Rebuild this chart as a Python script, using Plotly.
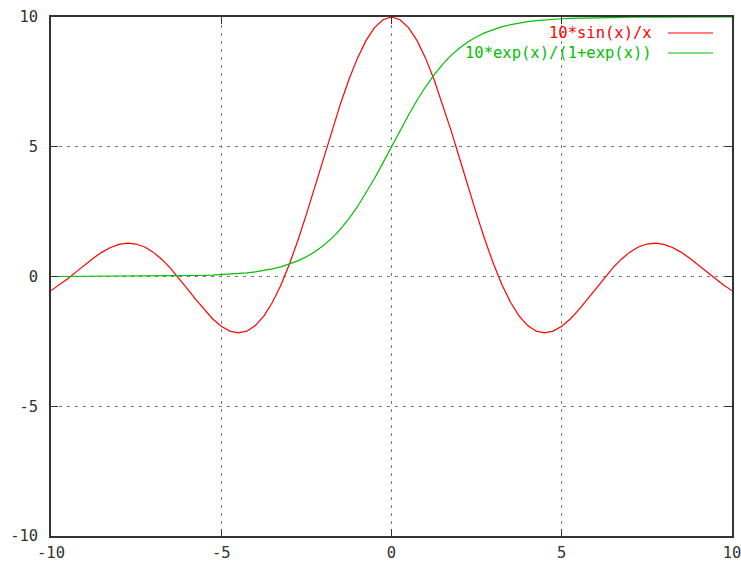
import plotly.graph_objects as go

x_vals = [-10.0, -9.75, -9.5, -9.25, -9.0, -8.75, -8.5, -8.25, -8.0, -7.75, -7.5, -7.25, -7.0, -6.75, -6.5, -6.25,
          -6.0, -5.75, -5.5, -5.25, -5.0, -4.75, -4.5, -4.25, -4.0, -3.75, -3.5, -3.25, -3.0, -2.75, -2.5, -2.25,
          -2.0, -1.75, -1.5, -1.25, -1.0, -0.75, -0.5, -0.25, 0.0, 0.25, 0.5, 0.75, 1.0, 1.25, 1.5, 1.75,
          2.0, 2.25, 2.5, 2.75, 3.0, 3.25, 3.5, 3.75, 4.0, 4.25, 4.5, 4.75, 5.0, 5.25, 5.5, 5.75,
          6.0, 6.25, 6.5, 6.75, 7.0, 7.25, 7.5, 7.75, 8.0, 8.25, 8.5, 8.75, 9.0, 9.25, 9.5, 9.75, 10.0]

sinc_vals = [-0.544, -0.326, -0.079, 0.188, 0.458, 0.714, 0.939, 1.117, 1.237, 1.285, 1.251, 1.135, 0.939, 0.667, 0.331, -0.053,
             -0.466, -0.884, -1.283, -1.636, -1.918, -2.104, -2.172, -2.106, -1.892, -1.524, -1.002, -0.333, 0.470, 1.388, 2.394, 3.458,
             4.546, 5.623, 6.650, 7.592, 8.415, 9.089, 9.589, 9.896, 10.0, 9.896, 9.589, 9.089, 8.415, 7.592, 6.650, 5.623,
             4.546, 3.458, 2.394, 1.388, 0.470, -0.333, -1.002, -1.524, -1.892, -2.106, -2.172, -2.104, -1.918, -1.636, -1.283, -0.884,
             -0.466, -0.053, 0.331, 0.667, 0.939, 1.135, 1.251, 1.285, 1.237, 1.117, 0.939, 0.714, 0.458, 0.188, -0.079, -0.326, -0.544]

logistic_vals = [0.000, 0.001, 0.001, 0.001, 0.001, 0.002, 0.002, 0.003, 0.003, 0.004, 0.006, 0.007, 0.009, 0.012, 0.015, 0.019,
                 0.025, 0.032, 0.041, 0.052, 0.067, 0.086, 0.110, 0.141, 0.180, 0.230, 0.293, 0.373, 0.474, 0.601, 0.759, 0.953,
                 1.192, 1.480, 1.824, 2.227, 2.689, 3.208, 3.775, 4.378, 5.000, 5.622, 6.225, 6.792, 7.311, 7.773, 8.176, 8.520,
                 8.808, 9.047, 9.241, 9.399, 9.526, 9.627, 9.707, 9.770, 9.820, 9.859, 9.890, 9.914, 9.933, 9.948, 9.959, 9.968,
                 9.975, 9.981, 9.985, 9.988, 9.991, 9.993, 9.994, 9.996, 9.997, 9.997, 9.998, 9.998, 9.999, 9.999, 9.999, 9.999, 10.0]

tick_vals = [-10, -5, 0, 5, 10]
tick_text = ["-10", "-5", "0", "5", "10"]
series_names = ["10*sin(x)/x", "10*exp(x)/(1+exp(x))"]
series_colors = ["#ff0000", "#00c000"]

FONT = "DejaVu Sans Mono"
FSIZE = 15.5

fig = go.Figure()
fig.add_trace(go.Scatter(x=x_vals, y=sinc_vals, mode="lines", name=series_names[0],
                         line=dict(color=series_colors[0], width=1.2), showlegend=False))
fig.add_trace(go.Scatter(x=x_vals, y=logistic_vals, mode="lines", name=series_names[1],
                         line=dict(color=series_colors[1], width=1.2), showlegend=False))

axis_common = dict(
    tickvals=tick_vals, ticktext=tick_text, showgrid=True, gridcolor="#777777", griddash="3px,5px",
    gridwidth=1, zeroline=False, showline=True, linecolor="#333333", linewidth=1.5, mirror="ticks",
    ticks="inside", ticklen=7, tickcolor="#333333", tickwidth=1, automargin=False,
    ticklabeloverflow="allow",
    tickfont=dict(family=FONT, size=FSIZE, color="#333333"),
)
fig.update_xaxes(range=[-10, 10], ticklabelstandoff=2, **axis_common)
fig.update_yaxes(range=[-10, 10], ticklabelstandoff=8, **axis_common)

# key (gnuplot style: text right-aligned, line sample on the right)
L, R, T, B = 51, 9, 17, 29
W, H = 741 - L - R, 565 - T - B
def px(xp):
    return (xp - L) / W
def py(yp):
    return (565 - B - yp) / H

key_rows = [33, 53]
for name, color, yrow in zip(series_names, series_colors, key_rows):
    fig.add_annotation(xref="paper", yref="paper", x=px(654), y=py(yrow), text=name, showarrow=False,
                       xanchor="right", yanchor="middle", font=dict(family=FONT, size=FSIZE, color=color))
    fig.add_shape(type="line", xref="paper", yref="paper", x0=px(668), x1=px(713), y0=py(yrow), y1=py(yrow),
                  line=dict(color=color, width=1.2))

fig.update_layout(
    width=741, height=565, margin=dict(l=L, r=R, t=T, b=B, autoexpand=False),
    paper_bgcolor="white", plot_bgcolor="white", showlegend=False,
)
fig.write_html("out.html", config={"displayModeBar": False},
               post_script="document.body.style.margin='0';document.body.style.overflow='hidden';")
